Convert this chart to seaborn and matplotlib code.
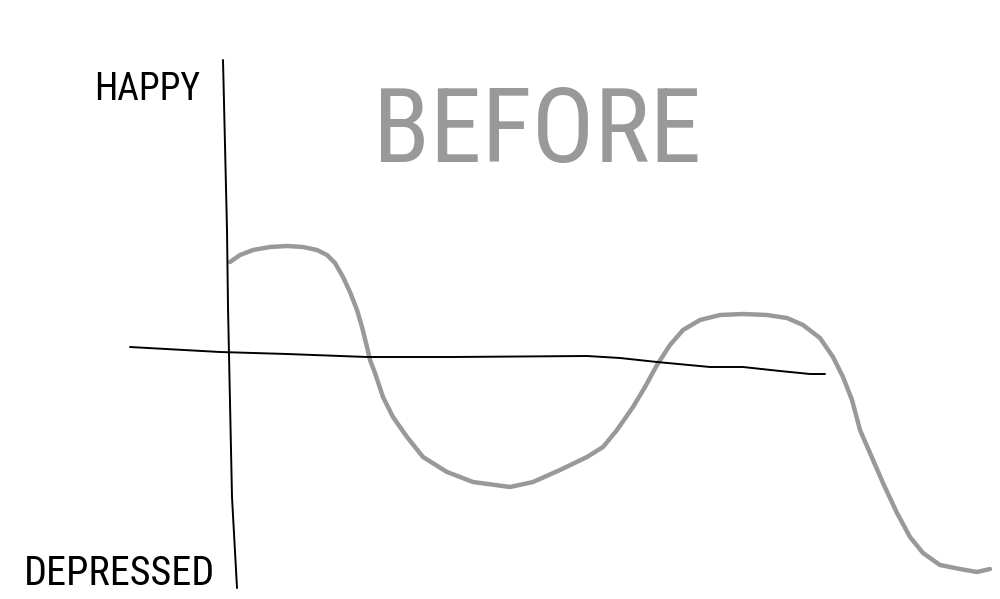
import seaborn as sns
import matplotlib.pyplot as plt
import pandas as pd

# mood over time
time = [0.00, 0.10, 0.23, 0.40, 0.57, 0.73, 0.87, 0.97, 1.05, 1.13, 1.20, 1.27,
        1.32, 1.37, 1.40, 1.45, 1.53, 1.63, 1.77, 1.93, 2.17, 2.43, 2.80, 3.03,
        3.30, 3.57, 3.73, 3.87, 4.03, 4.15, 4.27, 4.40, 4.53, 4.70, 4.90, 5.13,
        5.37, 5.57, 5.73, 5.90, 6.03, 6.13, 6.22, 6.30, 6.40, 6.53, 6.67, 6.80,
        6.93, 7.10, 7.30, 7.47, 7.60]
mood = [0.93, 1.00, 1.05, 1.08, 1.09, 1.08, 1.05, 1.00, 0.92, 0.78, 0.63, 0.45,
        0.28, 0.08, -0.05, -0.18, -0.42, -0.62, -0.82, -1.02, -1.17, -1.27, -1.32, -1.27,
        -1.15, -1.02, -0.92, -0.75, -0.52, -0.32, -0.10, 0.10, 0.25, 0.35, 0.40, 0.41,
        0.40, 0.37, 0.30, 0.17, -0.02, -0.22, -0.45, -0.75, -0.98, -1.28, -1.58, -1.82,
        -1.98, -2.10, -2.14, -2.17, -2.14]

# hand-drawn axes
haxis_x = [-1.00, -0.10, 0.57, 1.37, 2.23, 3.57, 3.90, 4.27, 4.80, 5.13, 5.50, 5.80, 5.95]
haxis_y = [0.08, 0.03, 0.01, -0.02, -0.02, -0.01, -0.03, -0.07, -0.12, -0.12, -0.16, -0.19, -0.19]
vaxis_x = [-0.07, -0.03, -0.02, 0.02, 0.07]
vaxis_y = [2.95, 1.25, 0.48, -1.42, -2.33]

title = "BEFORE"
top_label = "HAPPY"
bottom_label = "DEPRESSED"

sns.set_style("white")
plt.rcParams['font.family'] = ['Liberation Sans Narrow', 'Roboto Condensed', 'DejaVu Sans']
plt.rcParams['font.stretch'] = 'condensed'

fig = plt.figure(figsize=(10, 5.99), dpi=100)
ax = fig.add_axes([0, 0, 1, 1])

df = pd.DataFrame({'time': time, 'mood': mood})
sns.lineplot(data=df, x='time', y='mood', color='#999999', linewidth=3.2,
             sort=False, estimator=None, ax=ax, solid_capstyle='round',
             solid_joinstyle='round')
sns.lineplot(x=haxis_x, y=haxis_y, color='black', linewidth=1.4, sort=False,
             estimator=None, ax=ax)
sns.lineplot(x=vaxis_x, y=vaxis_y, color='black', linewidth=1.4, sort=False,
             estimator=None, ax=ax)

ax.text(-1.36, 2.55, top_label, fontsize=27, color='black', va='baseline')
ax.text(-2.06, -2.30, bottom_label, fontsize=29, color='black', va='baseline')
ax.text(1.43, 1.93, title, fontsize=75, color='#999999', va='baseline')

ax.set_xlim(-2.3, 7.7)
ax.set_ylim(-2.44, 3.55)
ax.axis('off')

fig.savefig("out.png", dpi=100, facecolor='white')
